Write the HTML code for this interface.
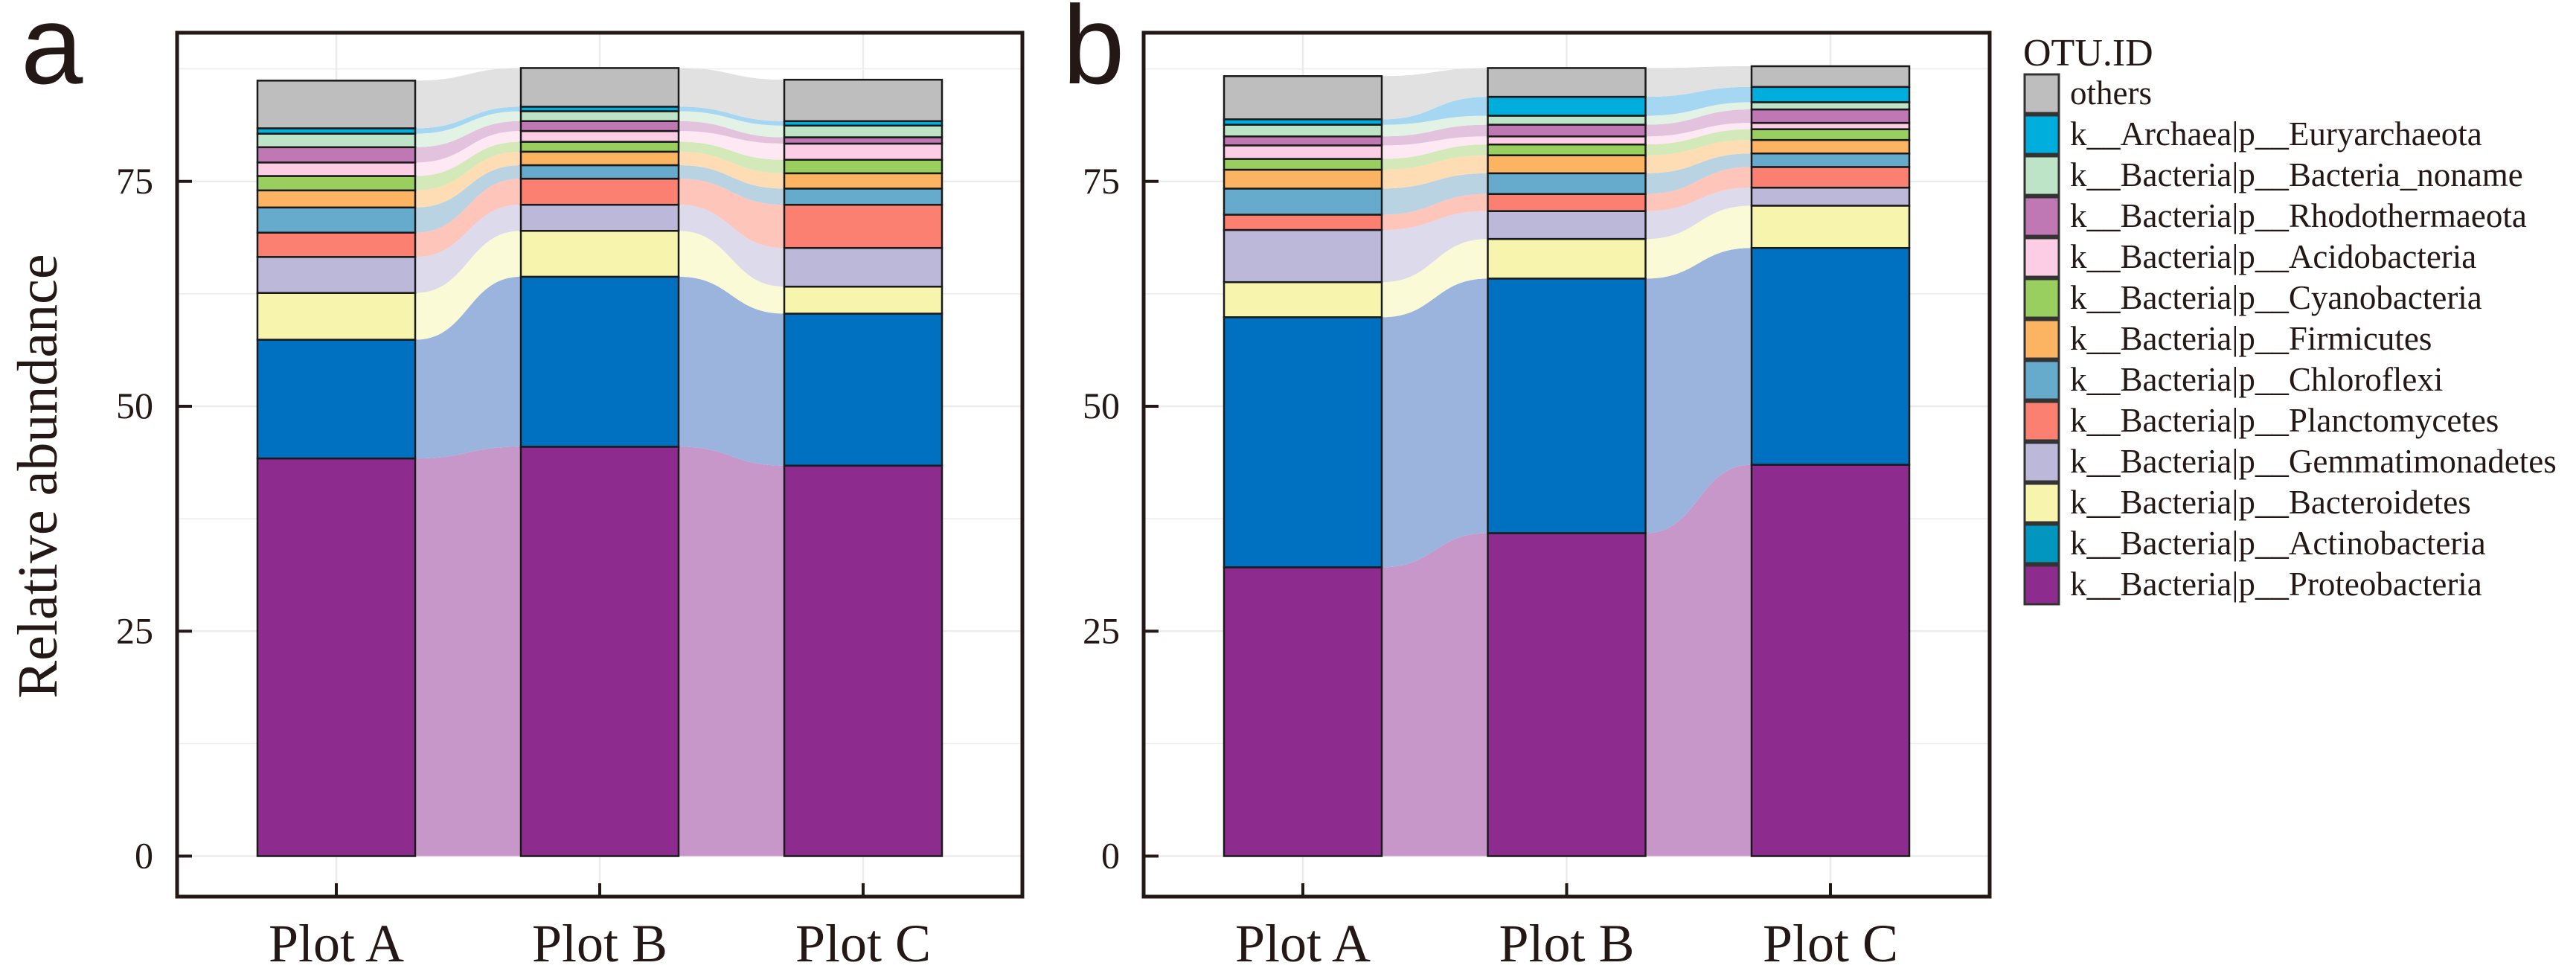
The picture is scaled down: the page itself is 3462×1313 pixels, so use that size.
<!DOCTYPE html>
<html><head><meta charset="utf-8">
<style>
html,body{margin:0;padding:0;background:#fff;overflow:hidden;}
svg{display:block;}
text{font-family:"Liberation Serif",serif;fill:#231815;}
</style></head>
<body>
<svg id="chart" width="3462" height="1313" viewBox="0 0 3462 1313" xmlns="http://www.w3.org/2000/svg"></svg>
<script>
// ---- data ----
const categories = ["Plot A", "Plot B", "Plot C"];
const taxa = ["k__Bacteria|p__Proteobacteria","k__Bacteria|p__Actinobacteria","k__Bacteria|p__Bacteroidetes","k__Bacteria|p__Gemmatimonadetes","k__Bacteria|p__Planctomycetes","k__Bacteria|p__Chloroflexi","k__Bacteria|p__Firmicutes","k__Bacteria|p__Cyanobacteria","k__Bacteria|p__Acidobacteria","k__Bacteria|p__Rhodothermaeota","k__Bacteria|p__Bacteria_noname","k__Archaea|p__Euryarchaeota","others"];
const colors = ["#8E2B8E","#0070C0","#F7F4AE","#BCB8DA","#FB8072","#67ABCC","#FDB462","#98CF5E","#FCCDE5","#BF78B4","#BEE4C8","#00AEDE","#BEBEBE"];
const ribbonColors = ["#C697C8","#9AB4DE","#FBFAD6","#DDDAEC","#FEC5BA","#BAD3E3","#FEDDB4","#D3E9BA","#FEE8F3","#E2C2DD","#E2F2E5","#A5D6F2","#E1E1E1"];
const legendColors = ["#8E2B8E","#0096BE","#F7F4AE","#BCB8DA","#FB8072","#67ABCC","#FDB462","#98CF5E","#FCCDE5","#BF78B4","#BEE4C8","#00AEDE","#BEBEBE"];
// values per taxon (Plot A, Plot B, Plot C) - panel a
const panelAProteobacteria = [44.2, 45.5, 43.4];
const panelAActinobacteria = [13.2, 18.9, 16.9];
const panelABacteroidetes = [5.2, 5.1, 3.0];
const panelAGemmatimonadetes = [4.0, 2.9, 4.3];
const panelAPlanctomycetes = [2.7, 2.9, 4.8];
const panelAChloroflexi = [2.8, 1.5, 1.8];
const panelAFirmicutes = [1.9, 1.5, 1.7];
const panelACyanobacteria = [1.6, 1.1, 1.5];
const panelAAcidobacteria = [1.5, 1.2, 1.8];
const panelARhodothermaeota = [1.7, 1.1, 0.7];
const panelANoname = [1.5, 1.1, 1.3];
const panelAEuryarchaeota = [0.6, 0.5, 0.5];
const panelAOthers = [5.3, 4.3, 4.6];
// panel b
const panelBProteobacteria = [32.1, 35.9, 43.5];
const panelBActinobacteria = [27.8, 28.3, 24.1];
const panelBBacteroidetes = [3.9, 4.4, 4.7];
const panelBGemmatimonadetes = [5.8, 3.1, 2.0];
const panelBPlanctomycetes = [1.7, 1.9, 2.3];
const panelBChloroflexi = [2.9, 2.3, 1.5];
const panelBFirmicutes = [2.1, 2.0, 1.5];
const panelBCyanobacteria = [1.2, 1.2, 1.2];
const panelBAcidobacteria = [1.5, 0.9, 0.7];
const panelBRhodothermaeota = [1.0, 1.3, 1.5];
const panelBNoname = [1.3, 1.0, 0.8];
const panelBEuryarchaeota = [0.6, 2.1, 1.7];
const panelBOthers = [4.8, 3.2, 2.3];
const yTicks = [0, 25, 50, 75];

const panelAData = [panelAProteobacteria,panelAActinobacteria,panelABacteroidetes,panelAGemmatimonadetes,panelAPlanctomycetes,panelAChloroflexi,panelAFirmicutes,panelACyanobacteria,panelAAcidobacteria,panelARhodothermaeota,panelANoname,panelAEuryarchaeota,panelAOthers];
const panelBData = [panelBProteobacteria,panelBActinobacteria,panelBBacteroidetes,panelBGemmatimonadetes,panelBPlanctomycetes,panelBChloroflexi,panelBFirmicutes,panelBCyanobacteria,panelBAcidobacteria,panelBRhodothermaeota,panelBNoname,panelBEuryarchaeota,panelBOthers];

const NS = "http://www.w3.org/2000/svg";
const svg = document.getElementById("chart");
function mk(tag, attrs, parent){
  const e = document.createElementNS(NS, tag);
  for (const k in attrs) e.setAttribute(k, attrs[k]);
  (parent||svg).appendChild(e);
  return e;
}
const Y0 = 1150.5, PXU = 12.09;
function yScale(v){ return Y0 - v*PXU; }

function drawPanel(cfg, data, letter, showYTitle){
  const g = mk("g", {});
  
  
  const L = cfg.left, R = cfg.right, T = 44, B = 1205;
  const barW = 212;
  const xScale = i => cfg.c0 + i*cfg.step;
  for (let v = 0; v <= 87.5; v += 12.5){
    const gl = mk("line", {x1:L, x2:R, y1:yScale(v), y2:yScale(v), stroke:"#ECECEC", "stroke-width": v%25===0?2.5:1.5}, g);
    
    
  }
  for (let i = 0; i < categories.length; i++){
    const gl = mk("line", {x1:xScale(i), x2:xScale(i), y1:T, y2:B, stroke:"#ECECEC", "stroke-width":2.5}, g);
    
    
  }
  const cum = categories.map((c, i) => {
    let s = 0; return data.map(arr => { const b = s; s += arr[i]; return [b, s]; });
  });
  for (let i = 0; i < categories.length - 1; i++){
    const xa = xScale(i) + barW/2, xb = xScale(i+1) - barW/2, xm = (xa+xb)/2;
    data.forEach((arr, k) => {
      const [a0, a1] = cum[i][k], [b0, b1] = cum[i+1][k];
      const d = `M${xa},${yScale(a1)} C${xm},${yScale(a1)} ${xm},${yScale(b1)} ${xb},${yScale(b1)} L${xb},${yScale(b0)} C${xm},${yScale(b0)} ${xm},${yScale(a0)} ${xa},${yScale(a0)} Z`;
      const p = mk("path", {d, fill: ribbonColors[k]}, g);
      
      
    });
  }
  for (let i = 0; i < categories.length; i++){
    const x = xScale(i) - barW/2;
    data.forEach((arr, k) => {
      const [s0, s1] = cum[i][k];
      const r = mk("rect", {x, y: yScale(s1), width: barW, height: yScale(s0)-yScale(s1), fill: colors[k], stroke: "#1a1a1a", "stroke-width": 2.5}, g);
      
      
    });
    const t = mk("text", {x: xScale(i), y: 1292, "font-size": 72, "text-anchor": "middle"}, g);
    t.textContent = categories[i];
    
    
    const tk = mk("line", {x1: xScale(i), x2: xScale(i), y1: B, y2: B-18, stroke: "#231815", "stroke-width": 4}, g);
    
    
  }
  yTicks.forEach(v => {
    const tk = mk("line", {x1: L, x2: L+20, y1: yScale(v), y2: yScale(v), stroke: "#231815", "stroke-width": 4}, g);
    
    
    const t = mk("text", {x: L-32, y: yScale(v)+16, "font-size": 50, "text-anchor": "end"}, g);
    t.textContent = v;
    
    
  });
  const f = mk("rect", {x: L, y: T, width: R-L, height: B-T, fill: "none", stroke: "#231815", "stroke-width": 5}, g);
  
  
  const lt = mk("text", {x: cfg.letterX, y: 112, "font-size": 150, style: 'font-family:"Liberation Sans",sans-serif'}, g);
  lt.textContent = letter;
  
  
  if (showYTitle){
    const yt = mk("text", {x: 0, y: 0, "font-size": 76, "text-anchor": "middle", transform: "translate(76,640) rotate(-90)"}, g);
    yt.textContent = "Relative abundance";
    
    
  }
}
drawPanel({left:238, right:1374, c0:452, step:354, letterX:28}, panelAData, "a", true);
drawPanel({left:1537, right:2674, c0:1751, step:354.5, letterX:1428}, panelBData, "b", false);

const lg = mk("g", {});


const lt = mk("text", {x: 2719, y: 88, "font-size": 52}, lg);
lt.textContent = "OTU.ID";


for (let j = 0; j < taxa.length; j++){
  const k = taxa.length - 1 - j;
  const y = 99 + j*55;
  const r = mk("rect", {x: 2721, y: y+1, width: 46, height: 52, fill: legendColors[k], stroke: "#333", "stroke-width": 3}, lg);
  
  
  const t = mk("text", {x: 2782, y: y+41, "font-size": 45}, lg);
  t.textContent = taxa[k];
  
  
}
</script>
</body></html>
